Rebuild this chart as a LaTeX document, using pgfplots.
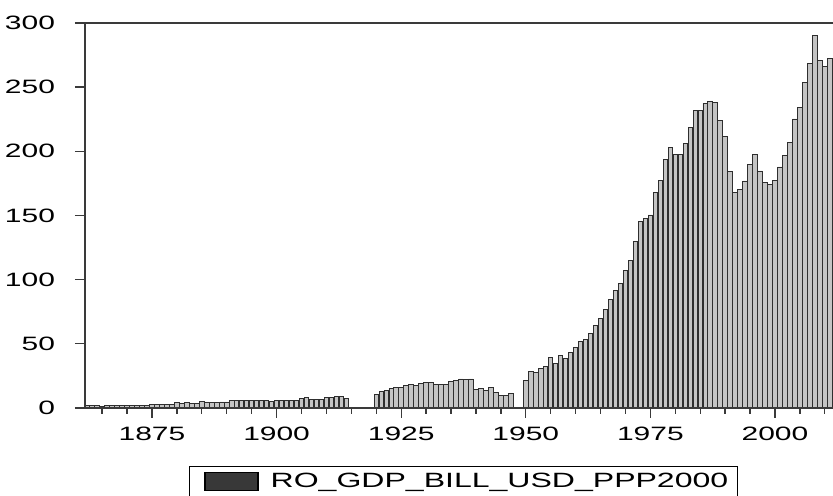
\documentclass[border=0pt]{standalone}
\usepackage{pgfplots}
\usepackage{pgfplotstable}
\pgfplotsset{compat=1.18}
\usepackage{fontspec}
\setmainfont{Liberation Sans}
% wide sans for ticks and key
\newfontfamily\widesans{Liberation Sans}[FakeStretch=1.55]

\definecolor{barfill}{HTML}{C4C4C4}
\definecolor{baredge}{HTML}{2E2E2E}
\definecolor{axisgray}{HTML}{3A3A3A}
\definecolor{keyfill}{HTML}{383838}

% Romanian GDP, billions of USD at PPP (2000 prices)
\pgfplotstableread{
year gdp
1862 1.6
1863 2.3
1864 2.3
1865 1.3
1866 1.6
1867 2.1
1868 2.1
1869 1.8
1870 2.1
1871 1.8
1872 1.8
1873 1.8
1874 1.8
1875 2.9
1876 2.9
1877 2.9
1878 2.9
1879 3.1
1880 4.4
1881 3.4
1882 4.2
1883 3.6
1884 3.4
1885 4.9
1886 4.7
1887 4.2
1888 4.4
1889 4.7
1890 4.7
1891 5.5
1892 5.7
1893 5.7
1894 5.7
1895 5.7
1896 6.2
1897 5.7
1898 6.2
1899 4.9
1900 6.2
1901 6.2
1902 6.2
1903 6.2
1904 5.7
1905 7.3
1906 8.1
1907 6.7
1908 6.7
1909 7.0
1910 8.3
1911 8.3
1912 9.1
1913 9.0
1914 7.5
1920 10.9
1921 12.5
1922 14.0
1923 15.1
1924 15.9
1925 16.1
1926 17.7
1927 18.4
1928 17.9
1929 19.0
1930 19.7
1931 19.7
1932 18.4
1933 18.4
1934 18.7
1935 20.8
1936 21.3
1937 22.6
1938 22.1
1939 22.6
1940 14.8
1941 15.4
1942 14.0
1943 15.9
1944 12.2
1945 9.4
1946 9.4
1947 11.6
1950 21.3
1951 28.1
1952 27.3
1953 30.8
1954 32.2
1955 39.7
1956 34.8
1957 40.8
1958 38.7
1959 43.4
1960 47.3
1961 51.7
1962 53.5
1963 58.2
1964 64.1
1965 69.4
1966 77.1
1967 84.9
1968 91.4
1969 96.9
1970 107.0
1971 114.8
1972 129.9
1973 145.7
1974 147.5
1975 150.4
1976 167.8
1977 177.4
1978 193.8
1979 202.8
1980 197.9
1981 197.9
1982 206.2
1983 218.7
1984 232.0
1985 232.0
1986 237.4
1987 239.2
1988 238.2
1989 224.4
1990 211.4
1991 184.2
1992 167.8
1993 170.4
1994 176.9
1995 189.4
1996 197.4
1997 184.7
1998 175.9
1999 174.3
2000 177.4
2001 187.8
2002 197.1
2003 207.0
2004 225.2
2005 234.0
2006 253.5
2007 268.3
2008 289.9
2009 270.7
2010 266.0
2011 272.5
}\gdptable

\begin{document}
\begin{tikzpicture}
\begin{axis}[
  name=ax,
  scale only axis,
  width=561pt, height=288.75pt,
  xmin=1861.56, xmax=2011.64,
  ymin=0, ymax=300,
  clip=false,
  axis on top,
  axis lines*=left,
  axis line style={draw=axisgray, line width=1.1pt},
  xtick={1875,1900,...,2000},
  minor xtick={1865,1870,...,2010},
  ytick={0,50,...,300},
  tick align=outside,
  major tick length=7.5pt,
  minor tick length=4.5pt,
  tick style={draw=axisgray, line width=1pt},
  /pgf/number format/1000 sep={},
  /pgf/number format/assume math mode=true,
  ticklabel style={font=\widesans\fontsize{14.5}{16}\selectfont, text=black},
  xticklabel style={yshift=-3pt},
  yticklabel style={xshift=-11.5pt},
  legend style={
    at={(0.506,-0.1506)}, anchor=north,
    draw=black, line width=1.1pt, fill=white,
    font=\widesans\fontsize{15.5}{18}\selectfont,
    inner xsep=5pt, inner ysep=3pt,
  },
  legend image code/.code={
    % invisible path that sets the padding around the key swatch
    \path[draw=none, fill=none] (-6.75pt,0pt) -- (47.25pt,0pt);
    \draw[fill=keyfill, draw=black, line width=0.8pt]
      (0pt,-6.75pt) rectangle (39.75pt,6.75pt);
  },
]
\addplot[ybar, bar width=0.9, bar shift=0pt,
         fill=barfill, draw=baredge, line width=0.7pt]
  table[x=year, y=gdp] {\gdptable};
\addlegendentry{RO\_GDP\_BILL\_USD\_PPP2000}
\draw[axisgray, line width=1.1pt] (rel axis cs:0,1) -- (rel axis cs:1,1);
\end{axis}
\pgfresetboundingbox
\path[use as bounding box]
  ([xshift=-63.75pt,yshift=-66pt]ax.south west)
  rectangle ([yshift=17.25pt]ax.north east);
\end{tikzpicture}
\end{document}
